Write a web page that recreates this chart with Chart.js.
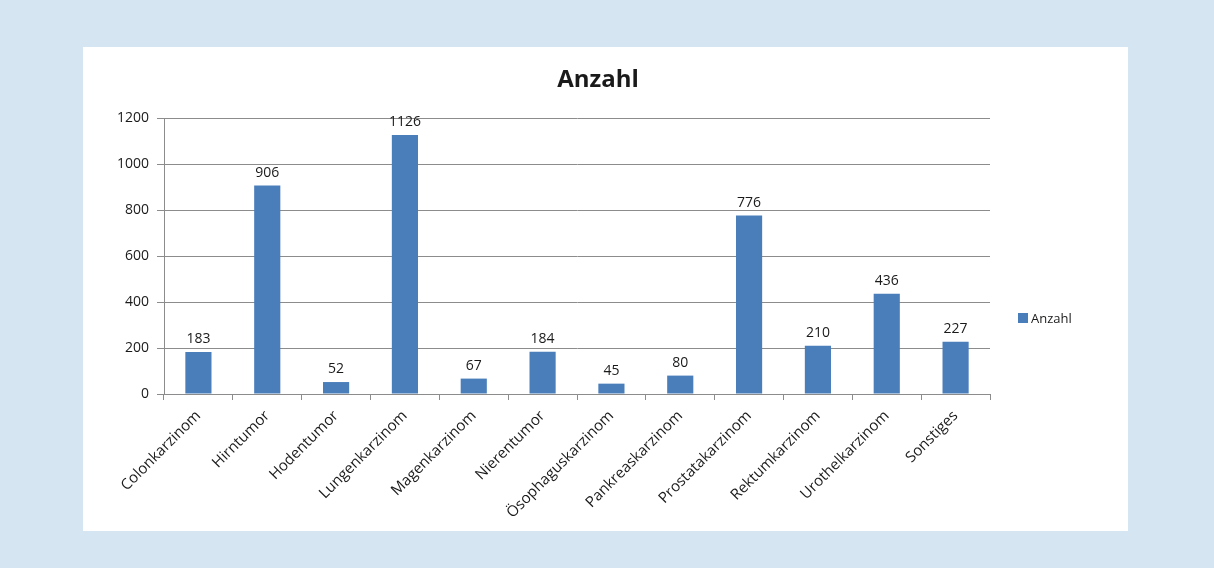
<!DOCTYPE html>
<html>
<head>
<meta charset="utf-8">
<script src="https://cdn.jsdelivr.net/npm/chart.js@4/dist/chart.umd.min.js"></script>
<style>
  html, body { margin: 0; padding: 0; background: #d6e5f2; }
  body { width: 1214px; height: 568px; position: relative; overflow: hidden; }
  #panel { position: absolute; left: 83px; top: 47px; width: 1045px; height: 484px; background: #fff; }
  canvas { display: block; }
</style>
</head>
<body>
<div id="panel"><canvas id="chart" width="1045" height="484"></canvas></div>
<script>
const categories = ['Colonkarzinom', 'Hirntumor', 'Hodentumor', 'Lungenkarzinom', 'Magenkarzinom',
  'Nierentumor', 'Ösophaguskarzinom', 'Pankreaskarzinom', 'Prostatakarzinom', 'Rektumkarzinom',
  'Urothelkarzinom', 'Sonstiges'];
const counts = [183, 906, 52, 1126, 67, 184, 45, 80, 776, 210, 436, 227];
const seriesName = 'Anzahl';
const chartTitle = 'Anzahl';

const FONT = '"Open Sans", sans-serif';
const TEXT = '#1a1a1a';
const GRID = '#8c8c8c';
const BAR = '#4a7ebb';

// value labels, title and legend drawn on canvas
const extras = {
  id: 'extras',
  afterDatasetsDraw(chart) {
    const ctx = chart.ctx;
    const meta = chart.getDatasetMeta(0);
    ctx.save();
    ctx.fillStyle = TEXT;
    ctx.font = '14px ' + FONT;
    ctx.textAlign = 'center';
    ctx.textBaseline = 'bottom';
    meta.data.forEach((bar, i) => {
      ctx.fillText(counts[i], bar.x, bar.y - 6);
    });

    // title
    ctx.font = 'bold 24px ' + FONT;
    ctx.textBaseline = 'middle';
    ctx.fillText(chartTitle, 515, 33);

    // legend
    const lx = chart.chartArea.right + 28, ly = 271;
    ctx.fillStyle = BAR;
    ctx.fillRect(lx, ly - 5, 10, 10);
    ctx.fillStyle = TEXT;
    ctx.font = '13px ' + FONT;
    ctx.textAlign = 'left';
    ctx.fillText(seriesName, lx + 13, ly + 1);
    ctx.restore();
  }
};

new Chart(document.getElementById('chart'), {
  type: 'bar',
  data: {
    labels: categories,
    datasets: [{
      label: seriesName,
      data: counts,
      backgroundColor: BAR,
      categoryPercentage: 1,
      barPercentage: 0.38
    }]
  },
  options: {
    responsive: false,
    animation: false,
    layout: { padding: { top: 71, right: 138, left: 0, bottom: 0 } },
    plugins: {
      legend: { display: false },
      title: { display: false },
      tooltip: { enabled: false }
    },
    scales: {
      x: {
        afterFit(scale) { scale.height = 137; },
        grid: { drawOnChartArea: false, color: GRID, tickLength: 6, offset: true },
        border: { color: GRID },
        ticks: { color: TEXT, font: { family: FONT, size: 15 }, minRotation: 45, maxRotation: 45, padding: 7, autoSkip: false }
      },
      y: {
        min: 0, max: 1200,
        afterFit(scale) { scale.width = 81; },
        grid: { color: GRID, tickLength: 7 },
        border: { color: GRID },
        ticks: { stepSize: 200, color: TEXT, font: { family: FONT, size: 14 }, padding: 8,
          callback: v => String(v) }
      }
    }
  },
  plugins: [extras]
});
</script>
</body>
</html>
